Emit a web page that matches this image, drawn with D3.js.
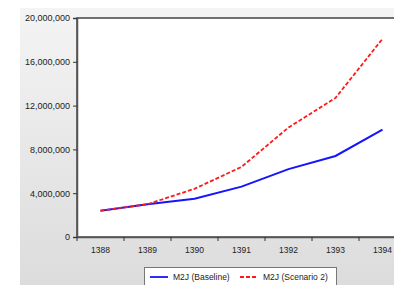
<!DOCTYPE html>
<html>
<head>
<meta charset="utf-8">
<script src="https://cdn.jsdelivr.net/npm/d3@7"></script>
<style>
  html, body { margin: 0; padding: 0; background: #fff; }
  svg { display: block; font-family: Arial, "Liberation Sans", sans-serif; }
</style>
</head>
<body>
<div id="chart"></div>
<script>
const years = ["1388", "1389", "1390", "1391", "1392", "1393", "1394"];
const baseline = [2400000, 3000000, 3500000, 4600000, 6200000, 7400000, 9800000];
const scenario2 = [2400000, 3000000, 4400000, 6400000, 10000000, 12700000, 18100000];
const yTicks = [0, 4000000, 8000000, 12000000, 16000000, 20000000];
const seriesNames = ["M2J (Baseline)", "M2J (Scenario 2)"];

const W = 394, H = 285;
const plot = {left: 77, top: 18, right: 406, bottom: 237};

const svg = d3.select("#chart").append("svg")
    .attr("width", W)
    .attr("height", H);

const grad = svg.append("defs").append("linearGradient")
    .attr("id", "bg").attr("x1", 0).attr("y1", 0).attr("x2", 0).attr("y2", 1);
grad.append("stop").attr("offset", "0%").attr("stop-color", "#f4f4f4");
grad.append("stop").attr("offset", "100%").attr("stop-color", "#dcdcdc");

svg.append("rect")
    .attr("x", 20).attr("y", 8)
    .attr("width", W - 20).attr("height", H - 8)
    .attr("fill", "url(#bg)");

const x = d3.scaleBand().domain(years).range([plot.left, plot.right]);
const y = d3.scaleLinear().domain([0, 20000000]).range([plot.bottom, plot.top]);

svg.append("rect")
    .attr("x", plot.left).attr("y", plot.top)
    .attr("width", plot.right - plot.left).attr("height", plot.bottom - plot.top)
    .attr("fill", "#fff")
    .attr("stroke", "#444").attr("stroke-width", 1.5);

const yAxis = svg.append("g")
    .attr("transform", `translate(${plot.left},0)`)
    .call(d3.axisLeft(y).tickValues(yTicks).tickSize(4).tickPadding(3)
        .tickFormat(d3.format(",")));
yAxis.select(".domain").attr("stroke", "#555").attr("stroke-width", 1.5);
yAxis.selectAll("line").attr("stroke", "#333");
yAxis.selectAll("text").style("font-size", "9px").attr("fill", "#222");

const xAxis = svg.append("g")
    .attr("transform", `translate(0,${plot.bottom})`)
    .call(d3.axisBottom(x).tickSize(0).tickPadding(10));
xAxis.select(".domain").attr("stroke", "#555").attr("stroke-width", 1.5);
xAxis.selectAll("text").style("font-size", "8.5px").attr("fill", "#222");

// ticks on category boundaries
xAxis.selectAll(".bound")
    .data(years)
    .enter().append("line")
    .attr("class", "bound")
    .attr("x1", d => x(d)).attr("x2", d => x(d))
    .attr("y1", 0).attr("y2", 4)
    .attr("stroke", "#333");

const line = d3.line()
    .x((d, i) => x(years[i]) + x.bandwidth() / 2)
    .y(d => y(d));

svg.append("path")
    .datum(baseline)
    .attr("fill", "none")
    .attr("stroke", "#1414ff")
    .attr("stroke-width", 2)
    .attr("d", line);

svg.append("path")
    .datum(scenario2)
    .attr("fill", "none")
    .attr("stroke", "#ff1a1a")
    .attr("stroke-width", 1.8)
    .attr("stroke-dasharray", "4,2")
    .attr("d", line);

// legend
const legend = svg.append("g");
legend.append("rect")
    .attr("x", 144.5).attr("y", 267.5)
    .attr("width", 192).attr("height", 22)
    .attr("fill", "#fff")
    .attr("stroke", "#777");

const items = [
    {name: seriesNames[0], color: "#1414ff", dash: null, x: 150},
    {name: seriesNames[1], color: "#ff1a1a", dash: "4,2", x: 240}
];
items.forEach(it => {
    legend.append("line")
        .attr("x1", it.x).attr("x2", it.x + 18)
        .attr("y1", 277).attr("y2", 277)
        .attr("stroke", it.color)
        .attr("stroke-width", 1.8)
        .attr("stroke-dasharray", it.dash);
    legend.append("text")
        .attr("x", it.x + 23).attr("y", 280)
        .style("font-size", "8.5px")
        .attr("fill", "#222")
        .text(it.name);
});
</script>
</body>
</html>
